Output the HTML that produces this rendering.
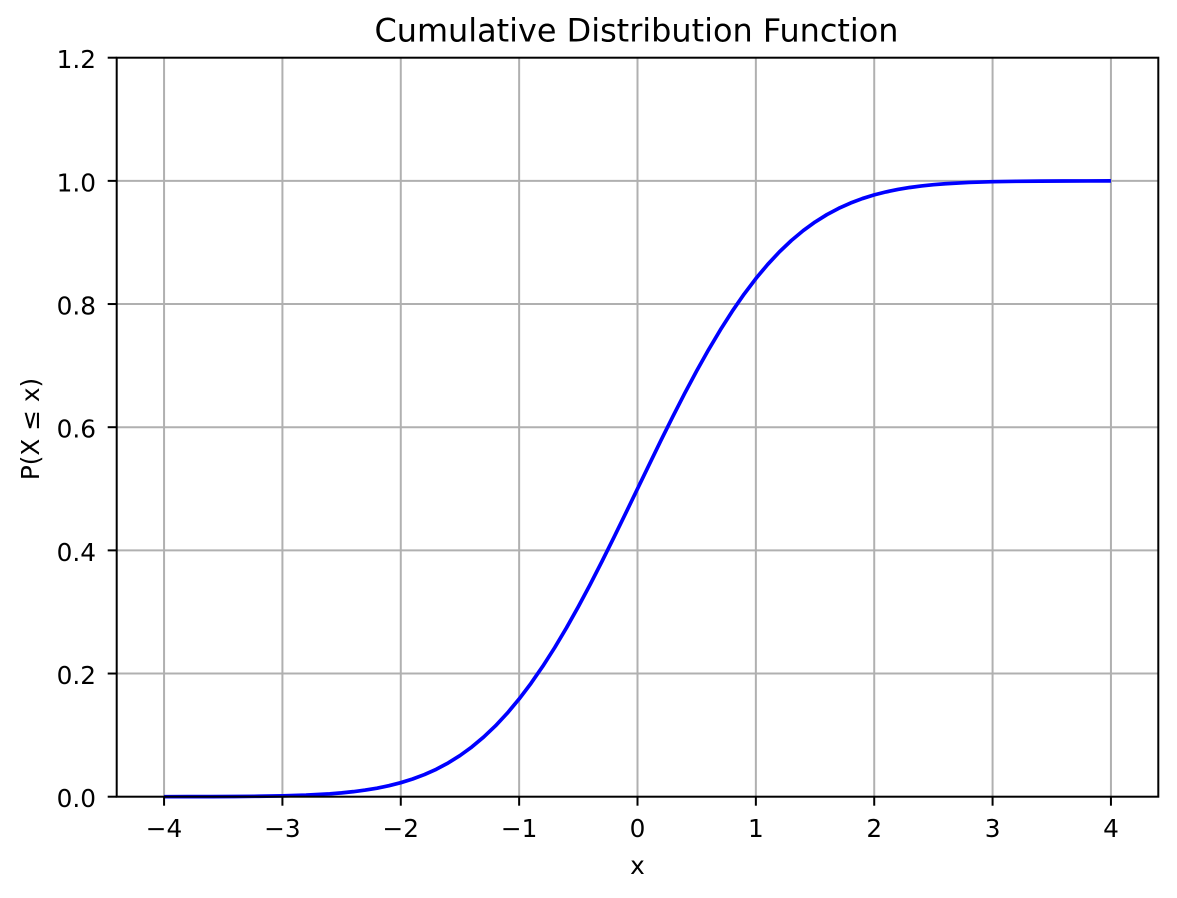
<!DOCTYPE html>
<html><head><meta charset="utf-8"><style>
html,body{margin:0;padding:0;background:#fff;}
svg{display:block;}
text{font-family:"DejaVu Sans","Liberation Sans",sans-serif;fill:#000;}
</style></head><body>
<svg width="1177" height="898" viewBox="0 0 1177 898" xmlns="http://www.w3.org/2000/svg">
<rect width="1177" height="898" fill="#fff"/>
<g stroke="#b0b0b0" stroke-width="2" fill="none">
<line x1="164.06" y1="57.7" x2="164.06" y2="796.7"/>
<line x1="282.42" y1="57.7" x2="282.42" y2="796.7"/>
<line x1="400.78" y1="57.7" x2="400.78" y2="796.7"/>
<line x1="519.14" y1="57.7" x2="519.14" y2="796.7"/>
<line x1="637.5" y1="57.7" x2="637.5" y2="796.7"/>
<line x1="755.86" y1="57.7" x2="755.86" y2="796.7"/>
<line x1="874.22" y1="57.7" x2="874.22" y2="796.7"/>
<line x1="992.58" y1="57.7" x2="992.58" y2="796.7"/>
<line x1="1110.94" y1="57.7" x2="1110.94" y2="796.7"/>
<line x1="116.7" y1="673.53" x2="1158.3" y2="673.53"/>
<line x1="116.7" y1="550.37" x2="1158.3" y2="550.37"/>
<line x1="116.7" y1="427.2" x2="1158.3" y2="427.2"/>
<line x1="116.7" y1="304.04" x2="1158.3" y2="304.04"/>
<line x1="116.7" y1="180.87" x2="1158.3" y2="180.87"/>
</g>
<polyline fill="none" stroke="#0000ff" stroke-width="3.7" stroke-linejoin="round" stroke-linecap="butt" points="
164.06,796.68 187.83,796.66 211.40,796.60 235.08,796.49 258.75,796.28 282.42,795.87 306.09,795.12 329.76,793.83 341.60,792.88 353.44,791.65 365.27,790.10 377.11,788.14 388.94,785.70 400.78,782.69 412.62,779.01 424.45,774.57 436.29,769.25 448.12,762.95 459.96,755.56 471.80,746.97 483.63,737.09 495.47,725.84 507.30,713.15 519.14,698.99 530.98,683.35 542.81,666.23 554.65,647.69 566.48,627.81 578.32,606.69 590.16,584.49 601.99,561.40 613.83,537.59 625.66,513.32 637.50,488.79 649.34,464.26 661.17,439.99 673.01,416.18 684.84,393.09 696.68,370.89 708.52,349.77 720.35,329.89 732.19,311.35 744.02,294.23 755.86,278.59 767.70,264.43 779.53,251.74 791.37,240.49 803.20,230.61 815.04,222.02 826.88,214.63 838.71,208.33 850.55,203.01 862.38,198.57 874.22,194.89 886.06,191.88 897.89,189.44 909.73,187.48 921.56,185.93 933.40,184.70 945.24,183.75 968.91,182.46 992.58,181.71 1016.25,181.30 1039.92,181.09 1063.60,180.98 1087.27,180.92 1110.94,180.90"/>
<rect x="116.7" y="57.7" width="1041.6" height="739" fill="none" stroke="#000" stroke-width="2"/>
<g stroke="#000" stroke-width="2">
<line x1="164.06" y1="796.7" x2="164.06" y2="805.7"/>
<line x1="282.42" y1="796.7" x2="282.42" y2="805.7"/>
<line x1="400.78" y1="796.7" x2="400.78" y2="805.7"/>
<line x1="519.14" y1="796.7" x2="519.14" y2="805.7"/>
<line x1="637.5" y1="796.7" x2="637.5" y2="805.7"/>
<line x1="755.86" y1="796.7" x2="755.86" y2="805.7"/>
<line x1="874.22" y1="796.7" x2="874.22" y2="805.7"/>
<line x1="992.58" y1="796.7" x2="992.58" y2="805.7"/>
<line x1="1110.94" y1="796.7" x2="1110.94" y2="805.7"/>
<line x1="107.7" y1="796.7" x2="116.7" y2="796.7"/>
<line x1="107.7" y1="673.53" x2="116.7" y2="673.53"/>
<line x1="107.7" y1="550.37" x2="116.7" y2="550.37"/>
<line x1="107.7" y1="427.2" x2="116.7" y2="427.2"/>
<line x1="107.7" y1="304.04" x2="116.7" y2="304.04"/>
<line x1="107.7" y1="180.87" x2="116.7" y2="180.87"/>
<line x1="107.7" y1="57.7" x2="116.7" y2="57.7"/>
</g>
<g font-size="24.75" text-anchor="middle">
<text x="164.06" y="837">−4</text>
<text x="282.42" y="837">−3</text>
<text x="400.78" y="837">−2</text>
<text x="519.14" y="837">−1</text>
<text x="637.5" y="837">0</text>
<text x="755.86" y="837">1</text>
<text x="874.22" y="837">2</text>
<text x="992.58" y="837">3</text>
<text x="1110.94" y="837">4</text>
</g>
<g font-size="24.75" text-anchor="end">
<text x="96" y="807.2">0.0</text>
<text x="96" y="684">0.2</text>
<text x="96" y="560.9">0.4</text>
<text x="96" y="437.7">0.6</text>
<text x="96" y="314.5">0.8</text>
<text x="96" y="191.4">1.0</text>
<text x="96" y="68.2">1.2</text>
</g>
<text x="637.5" y="874" font-size="24.75" text-anchor="middle">x</text>
<text x="0" y="0" font-size="24.75" text-anchor="middle" transform="translate(39,429) rotate(-90)">P(X ≤ x)</text>
<text x="636.5" y="41.5" font-size="31.9" text-anchor="middle">Cumulative Distribution Function</text>
</svg>
</body></html>
